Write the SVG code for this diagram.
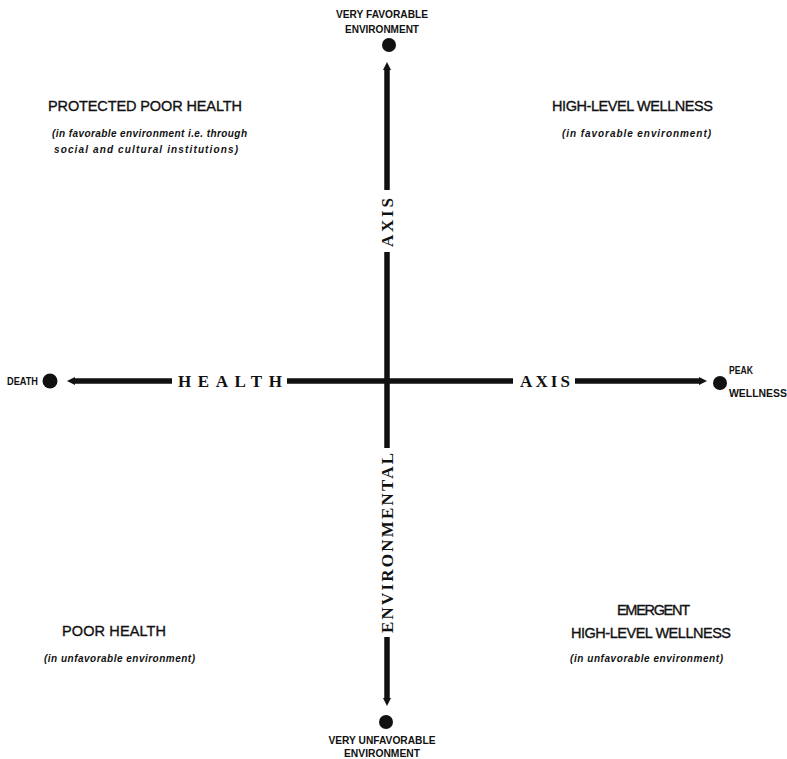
<svg xmlns="http://www.w3.org/2000/svg" width="787" height="759" viewBox="0 0 787 759">
<style>
.lbl{font-family:"Liberation Sans",Arial,sans-serif;font-size:14.5px;fill:#111;stroke:#111;stroke-width:0.35}
.sub{font-family:"Liberation Sans",Arial,sans-serif;font-size:10px;font-weight:bold;font-style:italic;fill:#111}
.pt{font-family:"Liberation Sans",Arial,sans-serif;font-size:10px;font-weight:bold;fill:#111}
.ax{font-family:"Liberation Serif","Times New Roman",serif;font-size:17px;font-weight:bold;fill:#111}
.ln{stroke:#111;stroke-width:5.5;fill:none}
.dot{fill:#111}
.ah{fill:#111}
</style>
<rect width="787" height="759" fill="#fff"/>
<g id="connectors">
<line class="ln" x1="387" y1="68" x2="387" y2="190"/>
<line class="ln" x1="387" y1="252" x2="387" y2="448"/>
<line class="ln" x1="387" y1="637" x2="387" y2="700"/>
<line class="ln" x1="73" y1="381" x2="172" y2="381"/>
<line class="ln" x1="287" y1="381" x2="513" y2="381"/>
<line class="ln" x1="575" y1="381" x2="701" y2="381"/>
<polygon class="ah" points="387,62 383,70 391,70"/>
<polygon class="ah" points="387,706 383,698 391,698"/>
<polygon class="ah" points="67,381 75,377 75,385"/>
<polygon class="ah" points="707,381 699,377 699,385"/>
</g>
<g id="axis-health"><text class="ax" x="178" y="387" textLength="104" lengthAdjust="spacing">HEALTH</text></g>
<g id="axis-axis-h"><text class="ax" x="520" y="387" textLength="50" lengthAdjust="spacing">AXIS</text></g>
<g id="axis-axis-v"><text class="ax" transform="translate(393,247) rotate(-90)" x="0" y="0" textLength="49" lengthAdjust="spacing">AXIS</text></g>
<g id="axis-env"><text class="ax" transform="translate(393,633) rotate(-90)" x="0" y="0" textLength="180" lengthAdjust="spacing">ENVIRONMENTAL</text></g>
<g id="node-top">
<circle class="dot" cx="389" cy="45" r="7"/>
<text class="pt" x="382" y="18" text-anchor="middle" textLength="92" lengthAdjust="spacingAndGlyphs">VERY FAVORABLE</text>
<text class="pt" x="382" y="33" text-anchor="middle" textLength="74" lengthAdjust="spacingAndGlyphs">ENVIRONMENT</text>
</g>
<g id="node-bottom">
<circle class="dot" cx="386" cy="722" r="7"/>
<text class="pt" x="382" y="744" text-anchor="middle" textLength="107" lengthAdjust="spacingAndGlyphs">VERY UNFAVORABLE</text>
<text class="pt" x="382" y="757" text-anchor="middle" textLength="76" lengthAdjust="spacingAndGlyphs">ENVIRONMENT</text>
</g>
<g id="node-death">
<circle class="dot" cx="50" cy="381" r="7.5"/>
<text class="pt" x="7" y="385" textLength="31" lengthAdjust="spacingAndGlyphs">DEATH</text>
</g>
<g id="node-peak">
<circle class="dot" cx="720" cy="383" r="7"/>
<text class="pt" x="729" y="374" textLength="24" lengthAdjust="spacingAndGlyphs">PEAK</text>
<text class="pt" x="729" y="397" textLength="58" lengthAdjust="spacingAndGlyphs">WELLNESS</text>
</g>
<g id="q-protected">
<text class="lbl" x="48" y="111" textLength="194" lengthAdjust="spacing">PROTECTED POOR HEALTH</text>
<text class="sub" x="52" y="137" textLength="195" lengthAdjust="spacing">(in favorable environment i.e. through</text>
<text class="sub" x="54" y="153" textLength="184" lengthAdjust="spacing">social and cultural institutions)</text>
</g>
<g id="q-highlevel">
<text class="lbl" x="552" y="111" textLength="161" lengthAdjust="spacing">HIGH-LEVEL WELLNESS</text>
<text class="sub" x="562" y="137" textLength="149" lengthAdjust="spacing">(in favorable environment)</text>
</g>
<g id="q-poor">
<text class="lbl" x="62" y="636" textLength="104" lengthAdjust="spacing">POOR HEALTH</text>
<text class="sub" x="44" y="662" textLength="151" lengthAdjust="spacing">(in unfavorable environment)</text>
</g>
<g id="q-emergent">
<text class="lbl" x="617" y="615" textLength="73" lengthAdjust="spacing">EMERGENT</text>
<text class="lbl" x="571" y="638" textLength="160" lengthAdjust="spacing">HIGH-LEVEL WELLNESS</text>
<text class="sub" x="570" y="662" textLength="153" lengthAdjust="spacing">(in unfavorable environment)</text>
</g>
</svg>
